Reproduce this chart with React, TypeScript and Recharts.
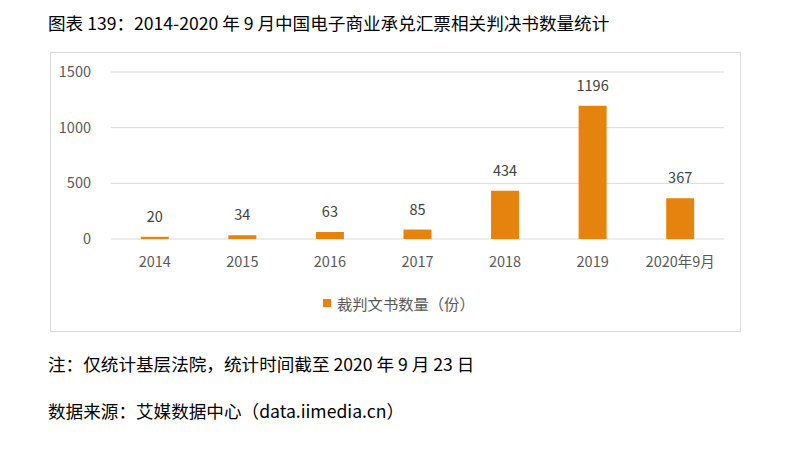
import { BarChart, Bar, XAxis, YAxis, CartesianGrid, LabelList } from 'recharts'

const categories = ['2014', '2015', '2016', '2017', '2018', '2019', '2020年9月']
const judgments = [20, 34, 63, 85, 434, 1196, 367]
const yTicks = [0, 500, 1000, 1500]

const chartData = categories.map((name, i) => ({ name, value: judgments[i] }))

const barColor = '#E5830F'
const font = '"Noto Sans CJK SC", "Noto Sans", sans-serif'

export default function App() {
    return (
        <div
            style={{
                position: 'absolute',
                left: 0,
                top: 0,
                width: 797,
                height: 469,
                background: '#fff',
                fontFamily: font,
                color: '#000',
            }}
        >
            <div style={{ position: 'absolute', left: 48, top: 11, fontSize: 17.6, lineHeight: '24px' }}>
                图表 139：2014-2020 年 9 月中国电子商业承兑汇票相关判决书数量统计
            </div>

            <div
                style={{
                    position: 'absolute',
                    left: 50,
                    top: 52,
                    width: 689,
                    height: 278,
                    border: '1px solid #d9d9d9',
                }}
            >
                <BarChart
                    width={689}
                    height={278}
                    data={chartData}
                    margin={{ top: 19, right: 16, left: 0, bottom: 62 }}
                    barCategoryGap='34%'
                >
                    <CartesianGrid vertical={false} stroke='#d9d9d9' />
                    <XAxis
                        dataKey='name'
                        axisLine={false}
                        tickLine={false}
                        height={30}
                        tickMargin={12}
                        tick={{ fill: '#595959', fontSize: 14.5, fontFamily: font }}
                        interval={0}
                    />
                    <YAxis
                        domain={[0, 1500]}
                        ticks={yTicks}
                        axisLine={false}
                        tickLine={false}
                        width={60}
                        tickMargin={14}
                        tick={{ fill: '#595959', fontSize: 14.5, fontFamily: font }}
                    />
                    <Bar dataKey='value' fill={barColor} isAnimationActive={false}>
                        <LabelList
                            dataKey='value'
                            position='top'
                            offset={15}
                            style={{ fill: '#404040', fontSize: 14.5, fontFamily: font }}
                        />
                    </Bar>
                </BarChart>
                <div
                    style={{
                        position: 'absolute',
                        left: 272,
                        top: 239,
                        display: 'flex',
                        alignItems: 'center',
                        fontSize: 15.3,
                        color: '#595959',
                    }}
                >
                    <span style={{ display: 'inline-block', width: 8, height: 8, background: barColor, marginRight: 6 }} />
                    裁判文书数量（份）
                </div>
            </div>

            <div style={{ position: 'absolute', left: 48, top: 352, fontSize: 17.6, lineHeight: '24px' }}>
                注：仅统计基层法院，统计时间截至 2020 年 9 月 23 日
            </div>
            <div style={{ position: 'absolute', left: 48, top: 399, fontSize: 17.6, lineHeight: '24px' }}>
                数据来源：艾媒数据中心（data.iimedia.cn）
            </div>
        </div>
    )
}
